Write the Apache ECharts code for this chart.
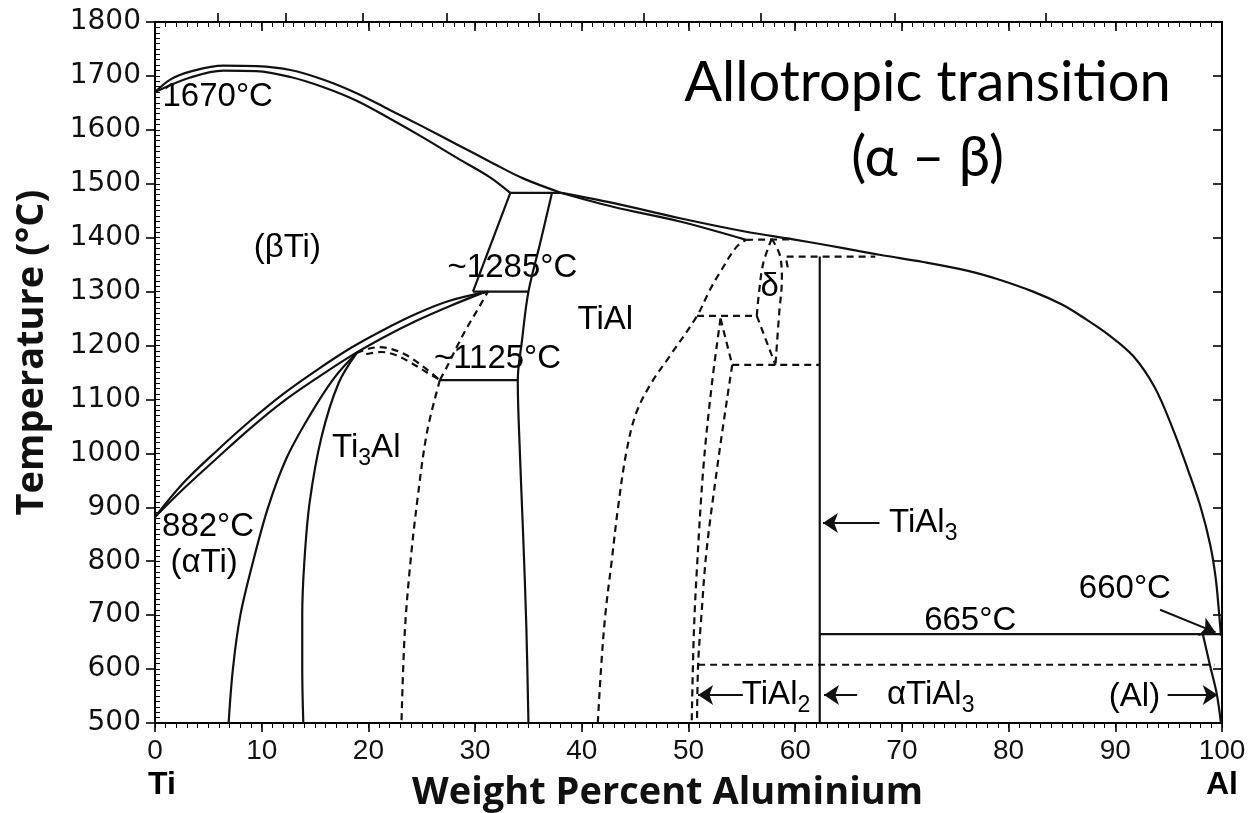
<!DOCTYPE html>
<html><head><meta charset="utf-8">
<script src="https://cdn.jsdelivr.net/npm/echarts@6/dist/echarts.min.js"></script>
<style>html,body{margin:0;padding:0;background:#fff}#c{width:1259px;height:813px}</style>
</head><body><div id="c"></div>
<script>
// ---- axis ranges / ticks ----
const xRange = [0, 100];
const yRange = [500, 1800];
const atomicTickWt = [5.9, 12.3, 19.5, 27.3, 36.0, 45.8, 56.8, 69.3, 83.5];

// ---- solid smooth boundaries [wt% Al, °C] ----
const betaLiquidus = [[0,1670],[1.5,1694],[3.3,1708],[6.4,1719],[9.5,1718],[12.7,1711],[15.8,1693],[18.9,1668],[22.0,1637],[25.1,1606],[28.3,1573],[31.4,1541],[34.5,1510],[38.1,1483]];
const betaSolidus = [[0,1670],[3.3,1697],[6.4,1710],[9.5,1709],[12.7,1698],[15.8,1679],[18.9,1654],[22.0,1621],[25.1,1586],[28.3,1548],[31.4,1512],[33.3,1483]];
const alLiquidus = [[38.1,1483],[43.0,1464],[49.2,1436],[55.4,1411],[59.8,1397],[63.0,1386],[66.0,1375],[68.3,1367],[72.0,1355],[76.1,1339],[79.0,1323],[82.3,1300],[85.0,1276],[87.0,1252],[89.5,1218],[91.7,1180],[93.7,1122],[95.4,1045],[96.8,970],[98.0,900],[98.9,830],[99.4,770],[99.7,710],[99.9,662]];
const tialSolidus = [[38.1,1483],[43.0,1457],[49.2,1430],[55.4,1396]];
const abRight = [[37.2,1483],[36.1,1390],[35.0,1300],[34.4,1210],[34.0,1136],[34.2,1000],[34.5,850],[34.8,680],[35.0,500]];
const betaTransusUpper = [[0,882],[2.65,945],[5.8,1005],[8.9,1060],[12.0,1110],[15.2,1155],[18.3,1195],[21.4,1229],[24.5,1259],[27.6,1283],[31.2,1300]];
const betaTransusLower = [[0,882],[2.65,934],[5.8,991],[8.9,1046],[12.0,1096],[15.2,1140],[18.3,1180],[21.4,1215],[24.5,1246],[27.6,1273],[31.0,1300]];
const alphaSolvus = [[6.9,500],[7.3,600],[8.0,700],[9.2,800],[10.6,900],[12.3,990],[14.5,1070],[16.8,1140],[18.9,1186]];
const ti3alLeft = [[13.9,500],[13.8,600],[13.8,700],[14.0,800],[14.5,910],[15.6,1030],[17.2,1130],[18.9,1186]];
const alSolvus = [[98.2,665],[98.9,605],[99.5,555],[99.9,500]];

// ---- solid straight boundaries ----
const peritectic1490 = [[33.3,1483],[38.1,1483]];
const abLeft = [[33.3,1483],[29.8,1300]];
const eutectoid1285 = [[29.8,1300],[35.0,1300]];
const eutectoid1125 = [[26.7,1136],[33.95,1136]];
const tial3Line = [[62.3,500],[62.3,1365]];
const peritectic665 = [[62.3,665],[100,665]];

// ---- dashed smooth boundaries ----
const orderUpper = [[18.9,1186],[20.0,1194],[21.1,1197],[22.4,1192],[23.6,1182],[25.2,1160],[26.7,1136]];
const orderLower = [[19.8,1184],[21.2,1188],[22.6,1182],[24.0,1168],[25.5,1150],[26.7,1136]];
const ti3alRight = [[26.7,1136],[25.5,1040],[24.6,915],[23.9,790],[23.4,665],[23.1,500]];
const alphaTiAl = [[26.7,1136],[27.4,1162],[28.3,1198],[29.2,1232],[30.1,1262],[31.2,1300]];
const tialBoundary = [[41.5,500],[41.8,600],[42.2,700],[42.8,800],[43.4,900],[44.2,1005],[45.1,1075],[46.5,1130],[48.3,1182],[50.8,1255],[52.0,1303],[52.9,1334],[54.5,1383],[55.4,1396]];
const deltaLeft = [[56.4,1255],[56.6,1297],[57.0,1352],[57.8,1398]];
const deltaRight = [[57.8,1398],[58.6,1365],[58.75,1322],[58.5,1260],[58.15,1164]];
const tial2Left = [[53.0,1250],[52.2,1130],[51.4,975],[50.8,790],[50.5,666],[50.3,500]];
const tial2Right = [[54.1,1164],[53.6,1099],[52.7,975],[51.7,821],[51.2,697],[50.9,608],[50.8,500]];

// ---- dashed straight boundaries ----
const deltaTop = [[55.4,1396],[59.8,1397]];
const iso1255 = [[50.8,1255],[56.4,1255]];
const deltaDiag = [[56.4,1255],[58.15,1164]];
const iso1164 = [[54.1,1164],[62.3,1164]];
const iso1365 = [[59.3,1345],[59.1,1365],[67.5,1365]];
const tial2Apex = [[53.0,1250],[54.1,1164]];
const iso608 = [[50.9,608],[99.3,608]];

// ---- annotations ----
const labelText = ['1670°C','(βTi)','~1285°C','TiAl','δ','~1125°C','{n|Ti}{s|3}{n|Al}','882°C','(αTi)','{n|TiAl}{s|3}','660°C','665°C','{n|TiAl}{s|2}','{n|αTiAl}{s|3}','(Al)'];
const labelX = [0.7,12.4,33.5,42.2,57.6,32.1,19.8,0.66,4.6,68.8,90.9,76.4,55.0,68.6,91.8];
const labelY = [1661,1381,1344,1247,1308,1175,1010,863,797,871,749,690,552,552,548];
const labelAlign = ['left','center','center','center','center','center','center','left','center','left','center','center','left','left','center'];

const arrowFrom = [[67.9,871],[94.2,710],[55.1,552],[65.8,552],[94.9,552]];
const arrowTo = [[62.6,871],[99.4,668],[50.9,552],[62.7,552],[99.6,552]];

const titleText = ['Allotropic transition','(α – β)'];
const titleX = [72.4,72.4];
const titleY = [1687,1548];

// ---- build ----
const INK = '#111';
const series = [];
function addLine(data, dashed, smooth) {
  series.push({
    type: 'line', data: data, smooth: smooth ? 0.35 : false, symbol: 'none',
    silent: true, clip: true,
    lineStyle: { color: INK, width: 2.2, type: dashed ? [7, 5] : 'solid' }
  });
}
[betaLiquidus, betaSolidus, alLiquidus, tialSolidus, abRight, betaTransusUpper, betaTransusLower, alphaSolvus, ti3alLeft, alSolvus].forEach(d => addLine(d, false, true));
[peritectic1490, abLeft, eutectoid1285, eutectoid1125, tial3Line, peritectic665].forEach(d => addLine(d, false, false));
[orderUpper, orderLower, ti3alRight, alphaTiAl, tialBoundary, deltaLeft, deltaRight, tial2Left, tial2Right].forEach(d => addLine(d, true, true));
[deltaTop, iso1255, deltaDiag, iso1164, iso1365, tial2Apex, iso608].forEach(d => addLine(d, true, false));

series.push({
  type: 'lines', coordinateSystem: 'cartesian2d', silent: true,
  symbol: ['none', 'arrow'], symbolSize: [0, 15],
  lineStyle: { color: INK, width: 2, opacity: 1 },
  data: arrowFrom.map((p, i) => ({ coords: [p, arrowTo[i]] }))
});

const labelFont = 'Liberation Sans, Arial, sans-serif';
series.push({
  type: 'scatter', symbolSize: 0, silent: true, itemStyle: { opacity: 1 },
  data: labelText.map((t, i) => ({
    value: [labelX[i], labelY[i]],
    label: { show: true, position: 'inside', align: labelAlign[i], formatter: t }
  })),
  label: {
    color: '#000', opacity: 1, textBorderWidth: 0, fontFamily: labelFont, fontSize: 33,
    rich: {
      n: { fontFamily: labelFont, fontSize: 33, color: '#000' },
      s: { fontFamily: labelFont, fontSize: 23, color: '#000', padding: [22, 0, 0, 0] }
    }
  }
});
series.push({
  type: 'scatter', symbolSize: 0, silent: true, itemStyle: { opacity: 1 },
  data: titleText.map((t, i) => ({ value: [titleX[i], titleY[i]], label: { show: true, position: 'inside', formatter: t } })),
  label: { color: '#000', opacity: 1, textBorderWidth: 0, fontFamily: 'Lato, sans-serif', fontSize: 56 }
});

const axisLine = () => ({ show: true, onZero: false, lineStyle: { color: '#000', width: 2 } });
const noLine = { show: false };
const minorTickStyle = { color: '#000', width: 1 };
const majorTickStyle = { color: '#000', width: 1.6 };
const gridRect = { left: 155, right: 37, top: 22, bottom: 90, containLabel: false, outerBoundsMode: 'none' };

const chart = echarts.init(document.getElementById('c'), null, { renderer: 'canvas' });
chart.setOption({
  animation: false,
  backgroundColor: '#fff',
  grid: [Object.assign({}, gridRect), Object.assign({}, gridRect), Object.assign({}, gridRect)],
  xAxis: [
    {
      gridIndex: 0, type: 'value', min: xRange[0], max: xRange[1], interval: 10, position: 'bottom',
      axisLine: axisLine(), splitLine: { show: false },
      axisTick: { length: 9, lineStyle: majorTickStyle },
      axisLabel: {
        margin: 12, color: '#111', fontFamily: labelFont, fontSize: 28,
        formatter: v => v === 0 ? '{a|0}\n{t|Ti}' : (v === 100 ? '{a|100}\n{b|Al}' : '{a|' + v + '}'),
        rich: {
          a: { fontFamily: labelFont, fontSize: 28, color: '#111', lineHeight: 32 },
          t: { fontFamily: labelFont, fontSize: 32, fontWeight: 'bold', color: '#000', lineHeight: 36, padding: [0, 0, 0, 14] },
          b: { fontFamily: labelFont, fontSize: 32, fontWeight: 'bold', color: '#000', lineHeight: 36 }
        }
      },
      name: 'Weight Percent Aluminium', nameLocation: 'middle', nameGap: 51, nameMoveOverlap: false,
      nameTextStyle: { fontFamily: 'Open Sans, sans-serif', fontWeight: 'bold', fontSize: 38, color: '#111', padding: [0, 42, 0, 0] }
    },
    {
      gridIndex: 0, type: 'value', min: xRange[0], max: xRange[1], interval: 10, position: 'top',
      axisLine: axisLine(), splitLine: { show: false }, axisLabel: { show: false },
      axisTick: { inside: true, length: 9, lineStyle: majorTickStyle }
    },
    {
      gridIndex: 1, type: 'value', min: xRange[0], max: xRange[1], interval: 1, position: 'bottom',
      axisLine: noLine, splitLine: { show: false }, axisLabel: { show: false },
      axisTick: { length: 5, lineStyle: minorTickStyle }
    },
    {
      gridIndex: 1, type: 'value', min: xRange[0], max: xRange[1], interval: 1, position: 'top',
      axisLine: noLine, splitLine: { show: false }, axisLabel: { show: false },
      axisTick: { inside: true, length: 5, lineStyle: minorTickStyle }
    },
    {
      gridIndex: 2, type: 'value', min: xRange[0], max: xRange[1], position: 'top',
      axisLine: noLine, splitLine: { show: false }, axisLabel: { show: false },
      axisTick: { show: true, length: 9, customValues: atomicTickWt, lineStyle: majorTickStyle }
    }
  ],
  yAxis: [
    {
      gridIndex: 0, type: 'value', min: yRange[0], max: yRange[1], interval: 100, position: 'left',
      axisLine: axisLine(), splitLine: { show: false },
      axisTick: { length: 9, lineStyle: majorTickStyle },
      axisLabel: { margin: 14, color: '#111', fontFamily: 'DejaVu Sans, sans-serif', fontSize: 28, formatter: v => String(v) },
      name: 'Temperature (°C)', nameLocation: 'middle', nameGap: 104, nameRotate: 90, nameMoveOverlap: false,
      nameTextStyle: { fontFamily: 'Open Sans, sans-serif', fontWeight: 'bold', fontSize: 38, color: '#111', padding: [0, 0, 0, 40] }
    },
    {
      gridIndex: 0, type: 'value', min: yRange[0], max: yRange[1], interval: 100, position: 'right',
      axisLine: axisLine(), splitLine: { show: false }, axisLabel: { show: false },
      axisTick: { inside: true, length: 9, lineStyle: majorTickStyle }
    },
    {
      gridIndex: 1, type: 'value', min: yRange[0], max: yRange[1], interval: 10, position: 'left',
      axisLine: noLine, splitLine: { show: false }, axisLabel: { show: false },
      axisTick: { inside: true, length: 5, lineStyle: minorTickStyle }
    },
    {
      gridIndex: 1, type: 'value', min: yRange[0], max: yRange[1], interval: 10, position: 'right',
      axisLine: noLine, splitLine: { show: false }, axisLabel: { show: false },
      axisTick: { inside: false, length: 5, lineStyle: minorTickStyle }
    },
    {
      gridIndex: 2, type: 'value', min: yRange[0], max: yRange[1], interval: 100, position: 'left',
      axisLine: noLine, splitLine: { show: false }, axisLabel: { show: false }, axisTick: { show: false }
    }
  ],
  series: series
});
</script></body></html>
